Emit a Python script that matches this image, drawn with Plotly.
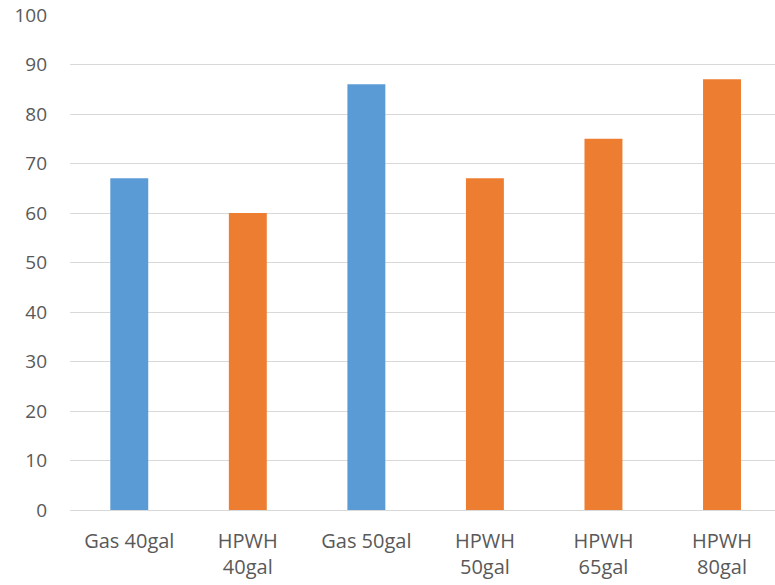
import plotly.graph_objects as go

categories = ["Gas 40gal", "HPWH<br>40gal", "Gas 50gal", "HPWH<br>50gal", "HPWH<br>65gal", "HPWH<br>80gal"]
values = [67, 60, 86, 67, 75, 87]
bar_colors = ["#5B9BD5", "#ED7D31", "#5B9BD5", "#ED7D31", "#ED7D31", "#ED7D31"]
y_ticks = [0, 10, 20, 30, 40, 50, 60, 70, 80, 90, 100]

font_family = "Open Sans, Liberation Sans, Arial, sans-serif"

fig = go.Figure(
    go.Bar(
        x=list(range(len(categories))),
        y=values,
        marker=dict(color=bar_colors, line=dict(width=0)),
        width=0.32,
    )
)

fig.update_layout(
    width=775,
    height=585,
    margin=dict(l=70, r=0, t=15, b=75),
    paper_bgcolor="white",
    plot_bgcolor="white",
    showlegend=False,
    font=dict(family=font_family, size=20, color="#595959"),
)

fig.update_xaxes(
    tickmode="array",
    tickvals=list(range(len(categories))),
    ticktext=categories,
    range=[-0.5, 5.447],
    showgrid=False,
    showline=True,
    linecolor="#d9d9d9",
    linewidth=1,
    ticks="",
    ticklabelstandoff=13,
    tickfont=dict(size=20, color="#595959"),
)

fig.update_yaxes(
    range=[0, 100],
    tickmode="array",
    tickvals=y_ticks,
    showgrid=True,
    gridcolor="#d9d9d9",
    gridwidth=1,
    zeroline=False,
    showline=False,
    ticks="",
    ticklabelstandoff=22,
    tickfont=dict(size=19, color="#595959"),
)

fig.write_html("out.html")
